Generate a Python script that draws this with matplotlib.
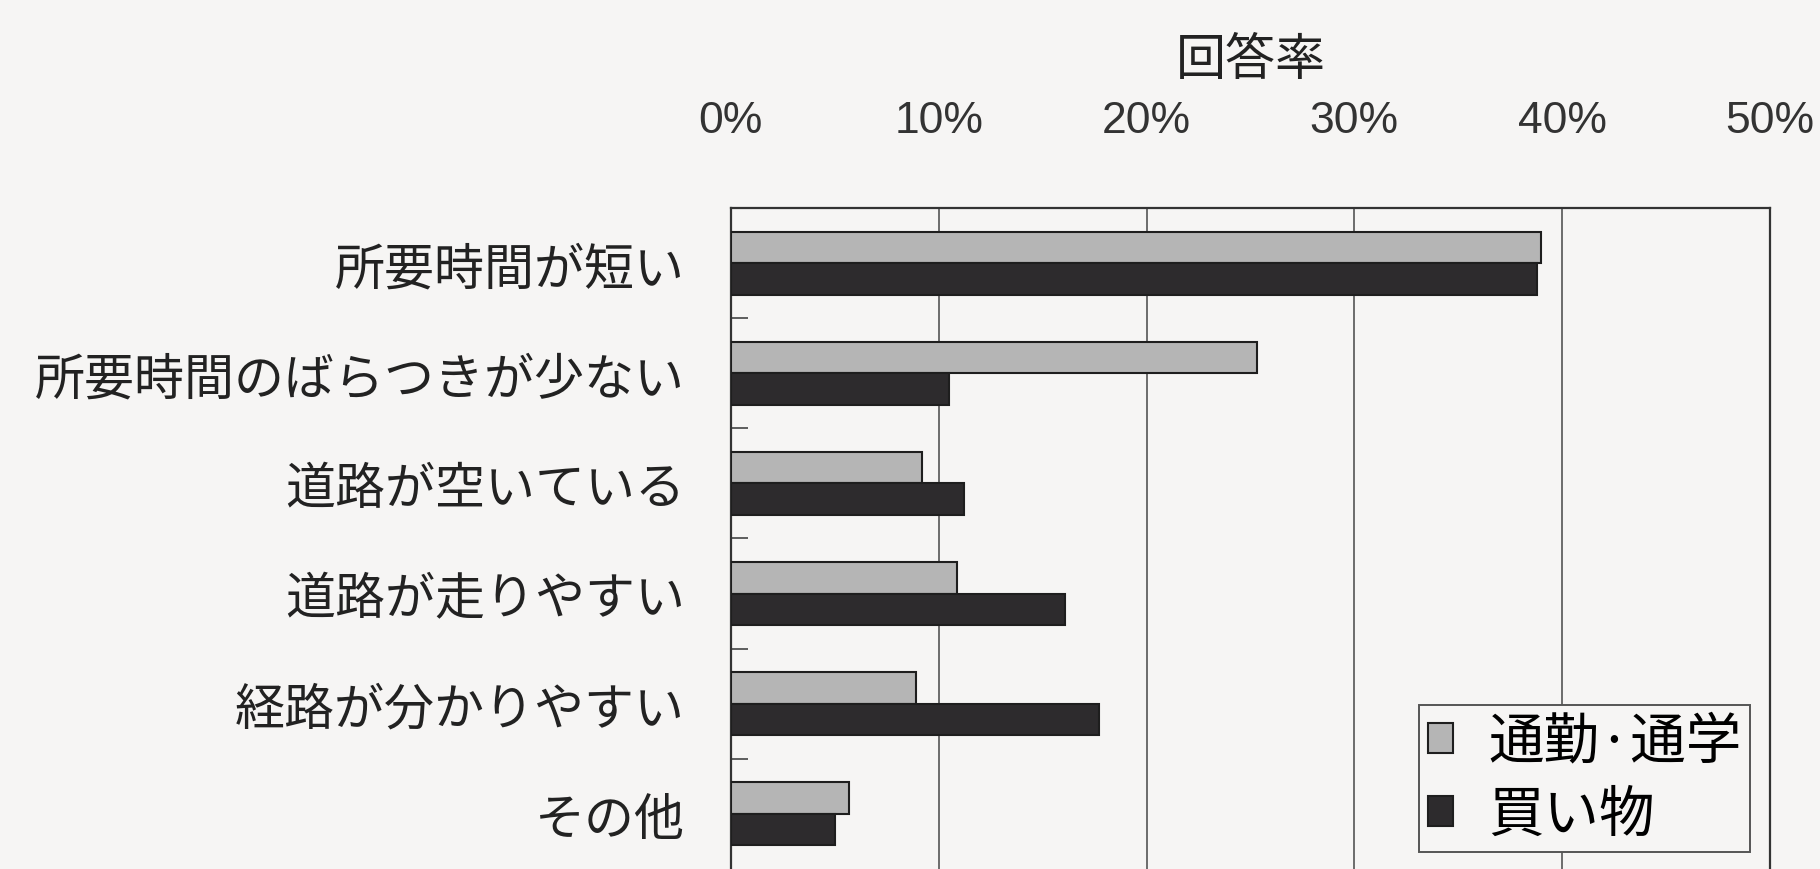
import numpy as np
import matplotlib
matplotlib.use("Agg")
import matplotlib.pyplot as plt

plt.rcParams['font.family'] = ['Noto Sans CJK JP', 'DejaVu Sans']

# --- survey data (response rate, %) ---
categories = ["所要時間が短い", "所要時間のばらつきが少ない", "道路が空いている",
              "道路が走りやすい", "経路が分かりやすい", "その他"]
commute = [39.0, 25.3, 9.2, 10.9, 8.9, 5.7]     # 通勤·通学
shopping = [38.8, 10.5, 11.2, 16.1, 17.7, 5.0]  # 買い物
series_names = ["通勤·通学", "買い物"]
xticks = [0, 10, 20, 30, 40, 50]

bg = "#f6f5f4"
fig = plt.figure(figsize=(18.2, 8.7), dpi=100, facecolor=bg)
ax = fig.add_axes([0.4016, 0.0, 0.5709, 0.7598], facecolor=bg)

y = np.arange(len(categories))
h = 0.286
ax.barh(y - h / 2, commute, height=h, color="#b5b5b5", edgecolor="#1e1e1e",
        linewidth=1.5, label=series_names[0], zorder=3)
ax.barh(y + h / 2, shopping, height=h, color="#2d2b2d", edgecolor="#1e1e1e",
        linewidth=1.5, label=series_names[1], zorder=3)

ax.set_xlim(0, 50)
ax.set_ylim(len(categories) - 0.5, -0.5)

# percentage axis on top
ax.set_xticks(xticks)
ax.set_xticklabels([f"{v}%" for v in xticks], family=["Liberation Sans", "DejaVu Sans"],
                   fontsize=32, color="#333333")
ax.tick_params(axis="x", top=True, labeltop=True, bottom=False, labelbottom=False,
               length=0, pad=48)
ax.grid(axis="x", color="#555555", linewidth=1.2, zorder=0)

# category labels, ticks sit between the categories
ax.set_yticks(y)
ax.set_yticklabels(categories, fontsize=36, color="#222222")
ax.tick_params(axis="y", which="major", length=0, pad=33)
ax.set_yticks(np.arange(0.5, len(categories) - 0.5, 1.0), minor=True)
ax.tick_params(axis="y", which="minor", direction="in", length=12, width=1.2, color="#444444")

for side in ["top", "right", "left"]:
    ax.spines[side].set_color("#333333")
    ax.spines[side].set_linewidth(1.6)
ax.spines["bottom"].set_visible(False)

leg = ax.legend(loc="lower right", bbox_to_anchor=(0.981, 0.026), borderaxespad=0,
                fontsize=40, frameon=True, fancybox=False, edgecolor="#555555",
                facecolor=bg, handlelength=0.45, handleheight=0.45,
                handletextpad=0.65, labelspacing=0.28, borderpad=0.15)
leg.get_frame().set_linewidth(1.4)
leg.get_frame().set_alpha(1.0)

fig.text(0.6875, 0.930, "回答率", ha="center", va="center", fontsize=36, color="#222222")

fig.savefig("out.png", dpi=100, facecolor=bg)
